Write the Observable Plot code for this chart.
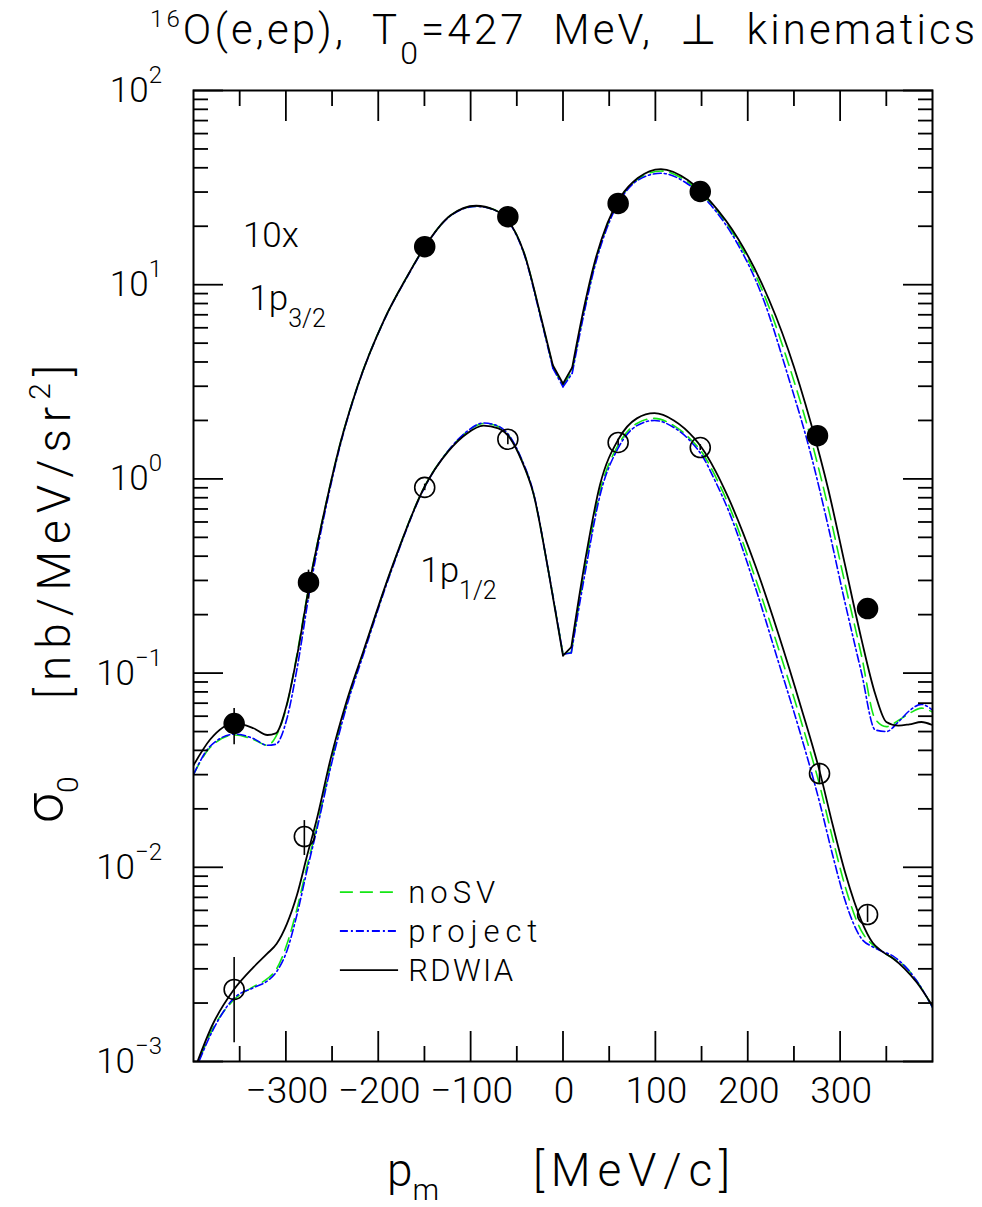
<!DOCTYPE html>
<html>
<head>
<meta charset="utf-8">
<script src="https://cdn.jsdelivr.net/npm/d3@7"></script>
<script src="https://cdn.jsdelivr.net/npm/@observablehq/plot@0.6"></script>
<style>
  body { margin: 0; background: #fff; }
  #chart svg { display: block; }
  #chart text { white-space: pre; }
</style>
</head>
<body>
<div id="chart"></div>
<script>
// ---- 1p3/2 state (scaled by 10): missing momentum grid [MeV/c] and cross sections [nb/MeV/sr^2]
const pm32 = [-400, -382, -355, -335, -320, -311, -299, -288, -274, -259, -241, -223, -194, -169, -150, -122, -94, -75, -60, -42, -24, -11, 0, 10, 23, 34, 48, 63, 81, 106, 135, 160, 190, 215, 244, 269, 287, 305, 323, 338, 350, 363, 375, 388, 400];
const rdwia32 = [0.0335, 0.0455, 0.0553, 0.052, 0.048, 0.0489, 0.069, 0.122, 0.296, 0.658, 1.53, 2.95, 6.54, 10.97, 15.6, 22.7, 25.5, 24.4, 21.6, 14.5, 6.86, 3.85, 3.09, 3.75, 7.72, 12.9, 20.7, 28.6, 35.4, 39.4, 34.6, 26.7, 17.1, 10.2, 4.6, 1.89, 0.89, 0.366, 0.150, 0.078, 0.056, 0.0536, 0.0545, 0.056, 0.054];
const noSV32 = [0.030, 0.0414, 0.048, 0.0455, 0.0425, 0.047, 0.068, 0.125, 0.30, 0.66, 1.53, 2.95, 6.54, 10.97, 15.6, 22.7, 25.4, 24.4, 21.6, 14.5, 6.8, 3.78, 3.02, 3.6, 7.4, 12.5, 20.2, 28.2, 35.0, 38.5, 33.8, 26.3, 16.5, 9.55, 3.93, 1.57, 0.714, 0.293, 0.124, 0.058, 0.053, 0.057, 0.062, 0.066, 0.063];
const project32 = [0.030, 0.042, 0.0485, 0.046, 0.0425, 0.043, 0.058, 0.105, 0.27, 0.63, 1.50, 2.92, 6.5, 10.9, 15.5, 22.6, 25.3, 24.3, 21.5, 14.3, 6.7, 3.72, 2.98, 3.5, 7.2, 12.2, 19.8, 27.8, 34.5, 37.5, 33.0, 25.7, 15.9, 8.9, 3.34, 1.30, 0.571, 0.234, 0.101, 0.051, 0.050, 0.056, 0.064, 0.069, 0.0645];
const kinks32 = [-11, 0, 10];

// ---- 1p1/2 state
const pm12 = [-400, -379, -357, -335, -320, -310, -299, -288, -277, -266, -252, -234, -216, -186, -150, -124, -105, -86, -70, -57, -45, -32, -16, 0, 9, 24, 40, 60, 80, 99, 120, 142, 150, 165, 179, 208, 233, 258, 278, 292, 306, 323, 335, 345, 357, 370, 383, 400];
const rdwia12 = [0.00088, 0.00156, 0.00232, 0.00306, 0.0036, 0.00404, 0.0051, 0.0072, 0.0115, 0.0181, 0.0355, 0.0723, 0.13, 0.342, 0.908, 1.39, 1.70, 1.88, 1.82, 1.61, 1.25, 0.84, 0.34, 0.123, 0.136, 0.38, 0.93, 1.6, 2.05, 2.18, 2.0, 1.62, 1.45, 1.10, 0.80, 0.36, 0.16, 0.066, 0.031, 0.0165, 0.0092, 0.0053, 0.0041, 0.0037, 0.0034, 0.0030, 0.00255, 0.00193];
const noSV12 = [0.00085, 0.00148, 0.00206, 0.00243, 0.00267, 0.0030, 0.0040, 0.0061, 0.0102, 0.0165, 0.033, 0.070, 0.128, 0.34, 0.91, 1.40, 1.73, 1.93, 1.86, 1.63, 1.26, 0.84, 0.34, 0.125, 0.128, 0.35, 0.86, 1.5, 1.93, 2.05, 1.88, 1.53, 1.38, 1.03, 0.74, 0.31, 0.135, 0.056, 0.0263, 0.0140, 0.0078, 0.0047, 0.0040, 0.0037, 0.0034, 0.0031, 0.0026, 0.0019];
const project12 = [0.00085, 0.00145, 0.0021, 0.0024, 0.0026, 0.0029, 0.0037, 0.0057, 0.0097, 0.016, 0.032, 0.068, 0.125, 0.335, 0.90, 1.40, 1.74, 1.94, 1.87, 1.64, 1.27, 0.85, 0.34, 0.125, 0.127, 0.33, 0.82, 1.45, 1.88, 2.0, 1.84, 1.49, 1.33, 0.97, 0.69, 0.278, 0.115, 0.047, 0.0214, 0.0115, 0.0066, 0.0043, 0.0039, 0.0037, 0.0035, 0.0031, 0.0026, 0.0019];
const kinks12 = [0, 9];

// ---- measured points with error bars
const pm32Exp = [-356, -275.5, -149.7, -59.7, 59.7, 148.6, 275.5, 329.7];
const sig32Exp = [0.055, 0.293, 15.7, 22.4, 26.2, 30.2, 1.67, 0.215];
const sig32Lo = [0.0428, 0.24, 15.1, 21.5, 25.2, 29.0, 1.60, 0.206];
const sig32Hi = [0.0658, 0.339, 16.3, 23.3, 27.2, 31.4, 1.74, 0.224];
const pm12Exp = [-356, -280, -149.7, -59.7, 59.7, 148.6, 277.7, 329.7];
const sig12Exp = [0.00235, 0.0144, 0.904, 1.60, 1.54, 1.45, 0.0304, 0.00571];
const sig12Lo = [0.00125, 0.0115, 0.87, 1.50, 1.48, 1.40, 0.0271, 0.0052];
const sig12Hi = [0.00343, 0.0174, 0.94, 1.70, 1.60, 1.50, 0.0343, 0.00635];

// ---- axis ticks
const majorX = [-300, -200, -100, 0, 100, 200, 300];
const minorX = [-350, -250, -150, -50, 50, 150, 250, 350];
const xTickLabels = ["\u2212300", "\u2212200", "\u2212100", "0", "100", "200", "300"];
const decades = [1e-3, 1e-2, 1e-1, 1, 10, 100];
const decadeExponents = ["\u22123", "\u22122", "\u22121", "0", "1", "2"];
const minorY = decades.slice(0, -1).flatMap(d => [2, 3, 4, 5, 6, 7, 8, 9].map(m => d * m));

// ---- series styles
const GREEN = "#14e614", BLUE = "#0000ff";
const FONT = "Roboto, 'DejaVu Sans', sans-serif";

// each curve is split into pieces at its kink momenta, so the central
// minimum keeps its cusp; a kink point ends one piece and starts the next
const toRows = (pm, s, kinks) => pm.flatMap((p, i) => {
  const row = {pm: p, s: s[i], seg: kinks.filter(c => c < p).length};
  return kinks.includes(p) ? [row, {...row, seg: row.seg + 1}] : [row];
});
const curves = [
  {rows: toRows(pm32, noSV32, kinks32), stroke: GREEN, dash: "13,7", width: 1.6},
  {rows: toRows(pm12, noSV12, kinks12), stroke: GREEN, dash: "13,7", width: 1.6},
  {rows: toRows(pm32, project32, kinks32), stroke: BLUE, dash: "8,3,2,3", width: 1.6},
  {rows: toRows(pm12, project12, kinks12), stroke: BLUE, dash: "8,3,2,3", width: 1.6},
  {rows: toRows(pm32, rdwia32, kinks32), stroke: "black", dash: null, width: 1.8},
  {rows: toRows(pm12, rdwia12, kinks12), stroke: "black", dash: null, width: 1.8}
];
const exp32 = pm32Exp.map((p, i) => ({pm: p, s: sig32Exp[i], lo: sig32Lo[i], hi: sig32Hi[i]}));
const exp12 = pm12Exp.map((p, i) => ({pm: p, s: sig12Exp[i], lo: sig12Lo[i], hi: sig12Hi[i]}));

const tick = {label: null, tickFormat: () => "", strokeWidth: 1.8};

const chart = Plot.plot({
  width: 982,
  height: 1207,
  marginTop: 90,
  marginBottom: 146,
  marginLeft: 193,
  marginRight: 50,
  style: {background: "white", fontFamily: FONT, color: "black"},
  x: {domain: [-400, 400], axis: null},
  y: {type: "log", domain: [1e-3, 1e2], axis: null},
  marks: [
    ...curves.map(c => Plot.line(c.rows, {
      x: "pm", y: "s", z: "seg", stroke: c.stroke, strokeWidth: c.width,
      strokeDasharray: c.dash, curve: "monotone-x", clip: true
    })),
    Plot.ruleX(exp32, {x: "pm", y1: "lo", y2: "hi", strokeWidth: 1.6}),
    Plot.ruleX(exp12, {x: "pm", y1: "lo", y2: "hi", strokeWidth: 1.6}),
    Plot.dot(exp32, {x: "pm", y: "s", r: 10, fill: "black", stroke: "black"}),
    Plot.dot(exp12, {x: "pm", y: "s", r: 10, fill: "none", stroke: "black", strokeWidth: 1.6}),
    // inward ticks on all four sides
    Plot.axisX({...tick, anchor: "bottom", ticks: majorX, tickSize: -30}),
    Plot.axisX({...tick, anchor: "bottom", ticks: minorX, tickSize: -15}),
    Plot.axisX({...tick, anchor: "top", ticks: majorX, tickSize: -30}),
    Plot.axisX({...tick, anchor: "top", ticks: minorX, tickSize: -15}),
    Plot.axisY({...tick, anchor: "left", ticks: decades, tickSize: -30}),
    Plot.axisY({...tick, anchor: "left", ticks: minorY, tickSize: -15}),
    Plot.axisY({...tick, anchor: "right", ticks: decades, tickSize: -30}),
    Plot.axisY({...tick, anchor: "right", ticks: minorY, tickSize: -15}),
    Plot.text(majorX, {
      x: d => d, frameAnchor: "bottom", dy: 41, dx: 1,
      text: (d, i) => xTickLabels[i], fontSize: 37, fontWeight: 300,
      ariaLabel: "x tick labels"
    }),
    Plot.frame({stroke: "black", strokeWidth: 2})
  ]
});
document.getElementById("chart").append(chart);

// widen the x tick numerals a little
d3.select(chart).selectAll('g[aria-label="x tick labels"] text').attr("letter-spacing", 2);

// ---- text with super/subscripts, placed through the plot's scales
const sx = chart.scale("x"), sy = chart.scale("y");
const svg = d3.select(chart);
const g = svg.append("g")
  .attr("font-family", FONT)
  .attr("font-weight", 300)
  .attr("text-anchor", "start")
  .attr("fill", "black");

// writes a sequence of [text, fontSize, baselineShift] runs into a text element
function runs(textSel, parts) {
  let shift = 0;
  for (const [t, size, s] of parts) {
    textSel.append("tspan")
      .attr("font-size", size)
      .attr("dy", s - shift)
      .text(t);
    shift = s;
  }
  return textSel;
}

// y tick labels 10^n
decades.forEach((d, i) => {
  runs(g.append("text")
    .attr("x", 162)
    .attr("y", sy.apply(d) + 12)
    .attr("text-anchor", "end"),
    [["10", 35, 0], [decadeExponents[i], 24, -19]]);
});

// title
runs(g.append("text").attr("x", 150).attr("y", 44)
  .attr("textLength", 825).attr("lengthAdjust", "spacing"),
  [["16", 24, -17], ["O(e,ep),  T", 42, 0], ["0", 32, 20], ["=427  MeV,  \u22a5  kinematics", 42, 0]]);

// x axis title
runs(g.append("text").attr("x", 387).attr("y", 1186),
  [["p", 46, 0], ["m", 30, 14]]);
g.append("text").attr("x", 533).attr("y", 1186)
  .attr("font-size", 46)
  .attr("textLength", 197).attr("lengthAdjust", "spacing")
  .text("[MeV/c]");

// y axis title
runs(g.append("text").attr("transform", "translate(62,823) rotate(-90)"),
  [["\u03c3", 54, 0], ["0", 30, 16]]);
runs(g.append("text").attr("transform", "translate(70,699) rotate(-90)")
  .attr("textLength", 334).attr("lengthAdjust", "spacing"),
  [["[nb/MeV/sr", 46, 0], ["2", 30, -20], ["]", 46, 0]]);

// state labels
g.append("text")
  .attr("x", sx.apply(-346)).attr("y", sy.apply(15.5))
  .attr("font-size", 35).text("10x");
runs(g.append("text").attr("x", sx.apply(-339)).attr("y", sy.apply(7.36)),
  [["1p", 35, 0], ["3/2", 25, 17]]);
runs(g.append("text").attr("x", sx.apply(-154)).attr("y", sy.apply(0.293)),
  [["1p", 35, 0], ["1/2", 25, 17]]);

// legend
const legend = [
  {label: "noSV", stroke: GREEN, dash: "13,7", y: 0.00741, len: 87},
  {label: "project", stroke: BLUE, dash: "8,3,2,3", y: 0.00467, len: 129},
  {label: "RDWIA", stroke: "black", dash: null, y: 0.00294, len: 105}
];
for (const item of legend) {
  const yy = sy.apply(item.y);
  g.append("line")
    .attr("x1", sx.apply(-241)).attr("x2", sx.apply(-178))
    .attr("y1", yy).attr("y2", yy)
    .attr("stroke", item.stroke).attr("stroke-width", 1.8)
    .attr("stroke-dasharray", item.dash);
  g.append("text")
    .attr("x", sx.apply(-167)).attr("y", yy + 11)
    .attr("font-size", 31)
    .attr("textLength", item.len).attr("lengthAdjust", "spacing")
    .text(item.label);
}
</script>
</body>
</html>
